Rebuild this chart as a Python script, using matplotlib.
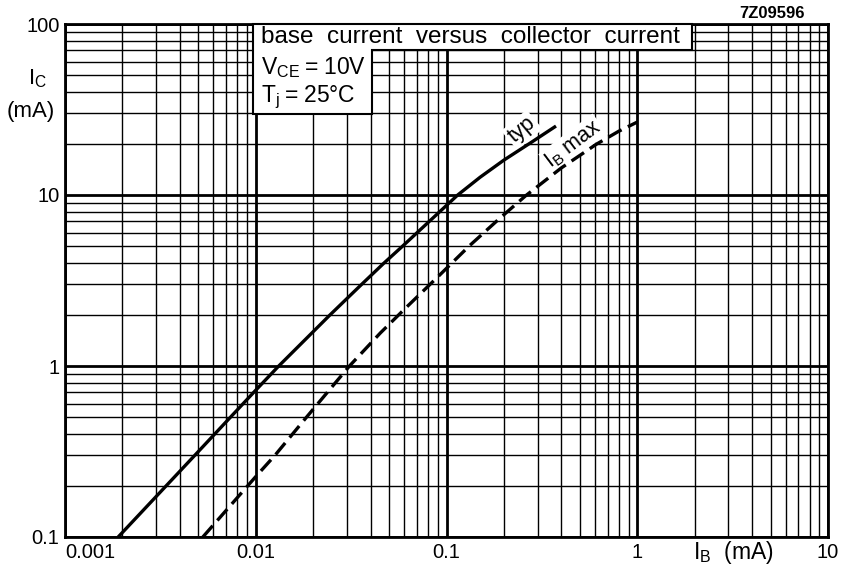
import matplotlib
matplotlib.use("Agg")
import matplotlib.pyplot as plt
from matplotlib.ticker import LogLocator, NullFormatter, FixedLocator, FixedFormatter
from matplotlib.patches import Polygon

# ---- data ----
typ_ib = [0.0019, 0.005, 0.0098, 0.0132, 0.0244, 0.0351, 0.0468, 0.0586, 0.1145,
          0.15, 0.2, 0.278, 0.375]
typ_ic = [0.1, 0.316, 0.705, 1.0, 1.98, 2.93, 3.98, 5.0, 10.0,
          12.7, 16.0, 20.3, 25.3]

max_ib = [0.00528, 0.01, 0.0126, 0.0184, 0.031, 0.045, 0.0615, 0.09, 0.132,
          0.19, 0.26, 0.4, 0.61, 0.8, 1.0]
max_ic = [0.1, 0.2255, 0.3, 0.5, 1.0, 1.56, 2.2, 3.32, 5.05,
          7.3, 9.9, 14.4, 19.8, 23.6, 26.7]

x_ticks = [0.001, 0.01, 0.1, 1, 10]
x_ticklabels = ["0.001", "0.01", "0.1", "1", "10"]
y_ticks = [0.1, 1, 10, 100]
y_ticklabels = ["0.1", "1", "10", "100"]

FONT = 'Liberation Sans'
plt.rcParams['font.family'] = [FONT, 'DejaVu Sans']
plt.rcParams['mathtext.fontset'] = 'custom'
plt.rcParams['mathtext.rm'] = FONT
plt.rcParams['mathtext.it'] = FONT
plt.rcParams['mathtext.bf'] = FONT + ':bold'

fig = plt.figure(figsize=(8.42, 5.68), dpi=100)
W, H = 842, 568
L, R, T, B = 65, 828, 24, 537
ax = fig.add_axes([L / W, 1 - B / H, (R - L) / W, (B - T) / H])
ax.set_xscale('log')
ax.set_yscale('log')
ax.set_xlim(0.001, 10)
ax.set_ylim(0.1, 100)

ax.xaxis.set_major_locator(FixedLocator(x_ticks))
ax.xaxis.set_major_formatter(FixedFormatter(x_ticklabels))
ax.yaxis.set_major_locator(FixedLocator(y_ticks))
ax.yaxis.set_major_formatter(FixedFormatter(y_ticklabels))
for axis in (ax.xaxis, ax.yaxis):
    axis.set_minor_locator(LogLocator(base=10, subs=range(2, 10), numticks=20))
    axis.set_minor_formatter(NullFormatter())

ax.grid(which='major', color='black', lw=2.0)
ax.grid(which='minor', color='black', lw=1.0)
ax.set_axisbelow(True)
ax.tick_params(which='both', length=0, labelsize=14.5, colors='black')
ax.tick_params(axis='x', pad=4)
ax.tick_params(axis='y', pad=4)
for s in ax.spines.values():
    s.set_linewidth(2.0)
    s.set_color('black')
fig.canvas.draw()
xl = ax.get_xticklabels()
xl[0].set_horizontalalignment('left')

# curves
ax.plot(typ_ib, typ_ic, color='black', lw=2.4, solid_capstyle='butt',
        solid_joinstyle='round', zorder=4)
ax.plot(max_ib, max_ic, color='black', lw=2.4, ls=(0, (4.5, 2.1)), zorder=4)


def fx(px):
    return (px - L) / (R - L)


def fy(py):
    return (B - py) / (B - T)


# text box (L-shaped, covers the grid)
poly = Polygon([(fx(253), fy(24)), (fx(692), fy(24)), (fx(692), fy(50)),
                (fx(372), fy(50)), (fx(372), fy(114)), (fx(253), fy(114))],
               closed=True, transform=ax.transAxes, facecolor='white',
               edgecolor='black', lw=1.5, zorder=3, clip_on=False)
ax.add_patch(poly)

ax.text(fx(261), fy(37), "base  current  versus  collector  current",
        transform=ax.transAxes, fontsize=17.5, va='center', ha='left', zorder=5)
ax.text(fx(261), fy(68), r"V$_{\mathrm{CE}}\;$=$\;$10V",
        transform=ax.transAxes, fontsize=16.5, va='center', ha='left', zorder=5)
ax.text(fx(261), fy(97), r"T$_{\mathrm{j}}\;$=$\;$25°C",
        transform=ax.transAxes, fontsize=16.5, va='center', ha='left', zorder=5)

# curve labels
ax.text(fx(522), fy(130), "typ", transform=ax.transAxes, fontsize=15.5,
        rotation=40, ha='center', va='center', zorder=3.5,
        bbox=dict(facecolor='white', edgecolor='none', pad=1.5))
ax.text(fx(573), fy(144), r"I$_{\mathrm{B}}$ max", transform=ax.transAxes, fontsize=15.5,
        rotation=37, ha='center', va='center', zorder=3.5,
        bbox=dict(facecolor='white', edgecolor='none', pad=1.0))

# axis labels
fig.text(37 / W, 1 - 79 / H, r"I$_{\mathrm{C}}$", fontsize=16, ha='center', va='center')
fig.text(31 / W, 1 - 112 / H, "(mA)", fontsize=16, ha='center', va='center')
fig.text(733 / W, 1 - 553 / H, r"I$_{\mathrm{B}}$  (mA)", fontsize=16.5, ha='center', va='center')
fig.text(772 / W, 1 - 13 / H, "7Z09596", fontsize=12, fontweight='bold',
         ha='center', va='center')

fig.savefig("out.png", dpi=100, facecolor='white')
